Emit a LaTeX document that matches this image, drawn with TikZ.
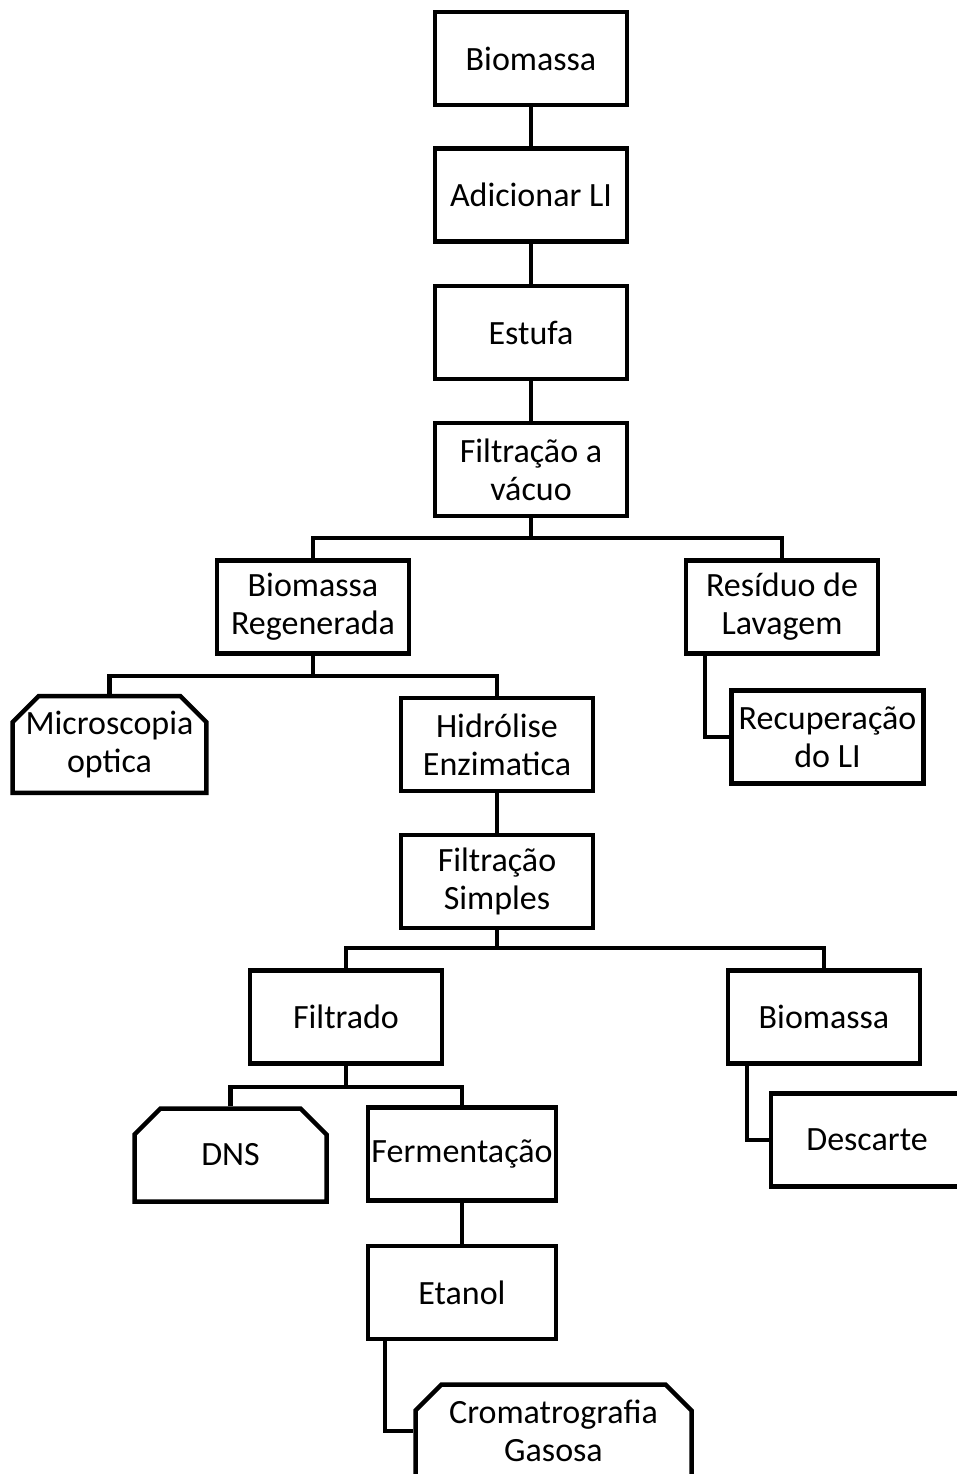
\documentclass[tikz,border=0pt]{standalone}
\usepackage{fontspec}
\setmainfont{Carlito}
\usepackage{tikz}
\usetikzlibrary{positioning,shapes.misc}

\begin{document}
\begin{tikzpicture}[x=1pt,y=-1pt,
		caixa/.style={draw,line width=4.5pt,fill=white,minimum width=192pt,minimum height=93pt,
			inner sep=2pt,align=center,font=\fontsize{34}{38}\selectfont},
		analise/.style={caixa,chamfered rectangle,inner xsep=0pt,
			chamfered rectangle corners={north west,north east},
			chamfered rectangle xsep=13pt,chamfered rectangle ysep=13pt},
		liga/.style={line width=4.5pt}]
		
		\useasboundingbox (0,0) rectangle (956,1474);
		
		% tronco principal
		\node[caixa] (bio) at (531,58.5) {Biomassa};
		\node[caixa] (adic) at (531,195) {Adicionar LI};
		\node[caixa] (estufa) at (531,332.5) {Estufa};
		\node[caixa] (filtv) at (531,469.5) {Filtração a\\vácuo};
		
		\node[caixa] (bioreg) at (313,607) {Biomassa\\Regenerada};
		\node[caixa] (residuo) at (782,607) {Resíduo de\\Lavagem};
		\node[caixa] (recup) at (827.5,737) {Recuperação\\do LI};
		
		\node[analise,minimum width=190pt] (micro) at (109.5,744.5) {Microscopia\\optica};
		\node[caixa] (hidro) at (497,744.5) {Hidrólise\\Enzimatica};
		\node[caixa] (filts) at (497,881.5) {Filtração\\Simples};
		
		\node[caixa] (filtrado) at (346,1017) {Filtrado};
		\node[caixa] (bio2) at (824,1017) {Biomassa};
		\node[caixa] (descarte) at (867,1140) {Descarte};
		
		\node[analise,minimum width=192pt] (dns) at (230.5,1155) {DNS};
		\node[caixa,minimum width=188pt] (ferm) at (462,1154) {Fermentação};
		\node[caixa,minimum width=188pt] (etanol) at (462,1292.5) {Etanol};
		\node[analise,minimum width=276pt] (croma) at (553.5,1431) {Cromatrografia\\Gasosa};
		
		% pontos de ramificacao
		\coordinate (j1) at (531,538);
		\coordinate (j2) at (313,676);
		\coordinate (j3) at (497,948);
		\coordinate (j4) at (346,1087);
		
		\draw[liga] (bio) -- (adic);
		\draw[liga] (adic) -- (estufa);
		\draw[liga] (estufa) -- (filtv);
		
		\draw[liga] (filtv.south) -- (j1);
		\draw[liga] (bioreg.north) |- (j1) -| (residuo.north);
		\draw[liga] ([xshift=-77pt]residuo.south) |- (recup.west);
		
		\draw[liga] (bioreg.south) -- (j2);
		\draw[liga] (micro.north) |- (j2) -| (hidro.north);
		\draw[liga] (hidro) -- (filts);
		
		\draw[liga] (filts.south) -- (j3);
		\draw[liga] (filtrado.north) |- (j3) -| (bio2.north);
		\draw[liga] ([xshift=-77pt]bio2.south) |- (descarte.west);
		
		\draw[liga] (filtrado.south) -- (j4);
		\draw[liga] (dns.north) |- (j4) -| (ferm.north);
		\draw[liga] (ferm) -- (etanol);
		\draw[liga] ([xshift=-77pt]etanol.south) |- (croma.west);
		
	\end{tikzpicture}
\end{document}
